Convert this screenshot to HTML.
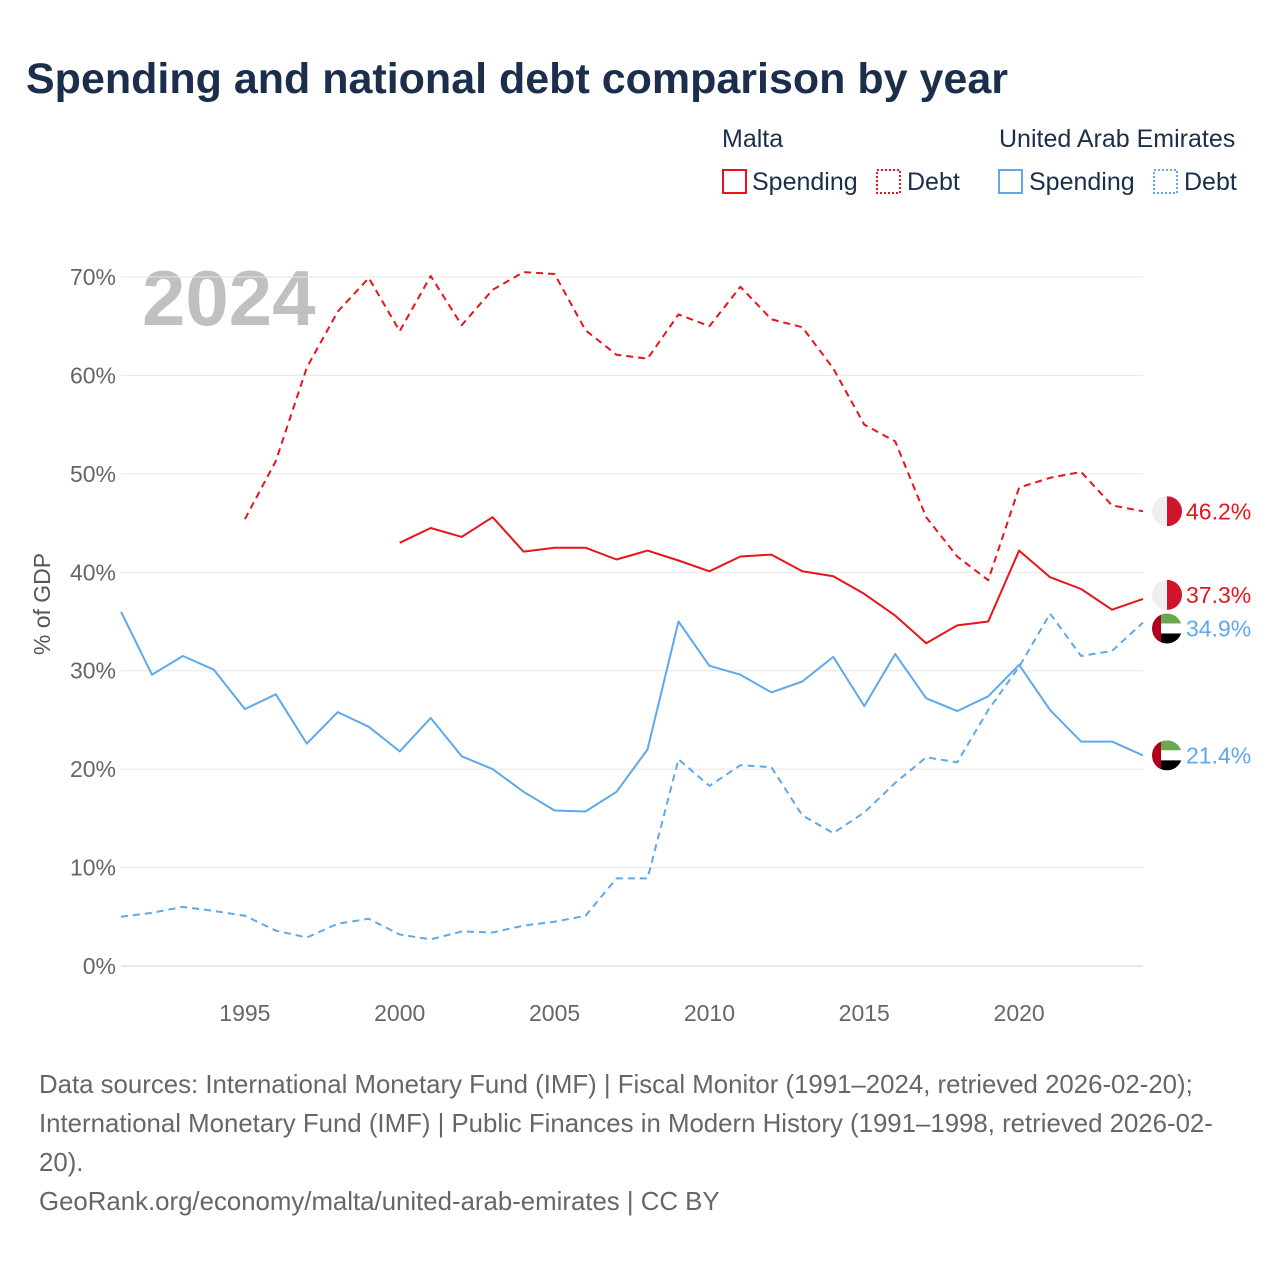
<!DOCTYPE html>
<html><head><meta charset="utf-8">
<style>
body{margin:0;background:#fff;font-family:"Liberation Sans",sans-serif;}
#wrap{position:relative;width:1280px;height:1280px;overflow:hidden;}
</style></head>
<body>
<div id="wrap">
<svg id="chart" width="1280" height="1280" font-family="Liberation Sans, sans-serif">
<text x="26" y="93" font-size="43" font-weight="bold" fill="#1b2e4b">Spending and national debt comparison by year</text>
<g font-size="25" fill="#1b2e4b">
<text x="722" y="147">Malta</text>
<text x="999" y="147">United Arab Emirates</text>
<g><rect x="723" y="170" width="23" height="23" fill="none" stroke="#e8141b" stroke-width="2"/><text x="752" y="190">Spending</text></g>
<g><rect x="877" y="170" width="23" height="23" fill="none" stroke="#e8141b" stroke-width="2" stroke-dasharray="2,2"/><text x="907" y="190">Debt</text></g>
<g><rect x="999" y="170" width="23" height="23" fill="none" stroke="#5ea8ec" stroke-width="2"/><text x="1029" y="190">Spending</text></g>
<g><rect x="1154" y="170" width="23" height="23" fill="none" stroke="#5ea8ec" stroke-width="2" stroke-dasharray="2,2"/><text x="1184" y="190">Debt</text></g>
</g>
<text x="142" y="325" font-size="78" font-weight="bold" fill="#c0c0c0">2024</text>
<text transform="translate(50,604) rotate(-90)" text-anchor="middle" font-size="23" fill="#555">% of GDP</text>
<g id="grid"></g><g id="xt"></g><g id="lines"></g><g id="ends"></g>
<g font-size="25.8" fill="#666">
<text x="39" y="1093">Data sources: International Monetary Fund (IMF) | Fiscal Monitor (1991–2024, retrieved 2026-02-20);</text>
<text x="39" y="1132">International Monetary Fund (IMF) | Public Finances in Modern History (1991–1998, retrieved 2026-02-</text>
<text x="39" y="1171">20).</text>
<text x="39" y="1210">GeoRank.org/economy/malta/united-arab-emirates | CC BY</text>
</g>
</svg>
</div>
<script>
const years=[];for(let y=1991;y<=2024;y++)years.push(y);
const uaeSpending=[36.0,29.6,31.5,30.1,26.1,27.6,22.6,25.8,24.3,21.8,25.2,21.3,20.0,17.7,15.8,15.7,17.7,22.0,35.0,30.5,29.6,27.8,28.9,31.4,26.4,31.7,27.2,25.9,27.4,30.6,26.0,22.8,22.8,21.4];
const uaeDebt=[5.0,5.4,6.0,5.6,5.1,3.6,2.9,4.3,4.8,3.2,2.7,3.5,3.4,4.1,4.5,5.1,8.9,8.9,21.0,18.3,20.4,20.2,15.3,13.5,15.6,18.6,21.2,20.7,26.0,30.4,35.8,31.5,32.0,34.9];
const maltaSpending=[null,null,null,null,null,null,null,null,null,43.0,44.5,43.6,45.6,42.1,42.5,42.5,41.3,42.2,41.2,40.1,41.6,41.8,40.1,39.6,37.8,35.6,32.8,34.6,35.0,42.2,39.5,38.3,36.2,37.3];
const maltaDebt=[null,null,null,null,45.4,51.3,60.8,66.5,69.9,64.5,70.1,65.1,68.7,70.5,70.3,64.6,62.1,61.7,66.2,65.0,69.0,65.7,64.9,60.7,55.0,53.3,45.6,41.6,39.2,48.6,49.6,50.2,46.8,46.2];
const yTicks=[0,10,20,30,40,50,60,70];
const xTicks=[1995,2000,2005,2010,2015,2020];
const NS="http://www.w3.org/2000/svg";
const X=y=>121+(y-1991)*(1143-121)/33;
const Y=v=>966-v*(966-277)/70;
function mk(t,a,p){const e=document.createElementNS(NS,t);for(const k in a)e.setAttribute(k,a[k]);p.appendChild(e);return e;}
const grid=document.getElementById('grid');
yTicks.forEach(v=>{
 const l=mk('line',{x1:121,x2:1143,y1:Y(v),y2:Y(v),stroke:v===0?'#ccc':'#e6e6e6','stroke-width':1},grid);
 
 
 const t=mk('text',{x:116,y:Y(v)+8,'text-anchor':'end','font-size':23,fill:'#666'},grid);t.textContent=v+'%';
 
 
});
const xt=document.getElementById('xt');
xTicks.forEach(y=>{
 const t=mk('text',{x:X(y),y:1021,'text-anchor':'middle','font-size':23,fill:'#666'},xt);t.textContent=y;
 
 
});
const lines=document.getElementById('lines');
function draw(vals,color,dash,name){
 let d='';let pen=false;
 vals.forEach((v,i)=>{if(v==null){pen=false;return;}d+=(pen?'L':'M')+X(years[i]).toFixed(1)+','+Y(v).toFixed(1);pen=true;});
 const p=mk('path',{d:d,fill:'none',stroke:color,'stroke-width':2,'stroke-dasharray':dash?'7,5':'none','stroke-linejoin':'round'},lines);
 
 
}
draw(uaeDebt,'#5ea8ec',true,'line-uae-debt');
draw(uaeSpending,'#5ea8ec',false,'line-uae-spending');
draw(maltaDebt,'#e8141b',true,'line-malta-debt');
draw(maltaSpending,'#e8141b',false,'line-malta-spending');
const ends=document.getElementById('ends');
function flag(cy,kind,val,color,name){
 const cx=1167;const g=mk('g',{},ends);
 
 
 const id='c'+Math.round(cy);
 const cp=mk('clipPath',{id:id},g);mk('circle',{cx:cx,cy:cy,r:15},cp);
 const f=mk('g',{'clip-path':'url(#'+id+')'},g);
 if(kind==='mt'){mk('rect',{x:cx-15,y:cy-15,width:15,height:30,fill:'#eee'},f);mk('rect',{x:cx,y:cy-15,width:15,height:30,fill:'#cf142b'},f);}
 else{mk('rect',{x:cx-15,y:cy-15,width:30,height:10,fill:'#6aa84f'},f);mk('rect',{x:cx-15,y:cy-5,width:30,height:10,fill:'#fff'},f);mk('rect',{x:cx-15,y:cy+5,width:30,height:10,fill:'#000'},f);mk('rect',{x:cx-15,y:cy-15,width:9,height:30,fill:'#b0001e'},f);}
 const t=mk('text',{x:1186,y:cy+8,'font-size':23,fill:color},g);t.textContent=val.toFixed(1)+'%';
}
const n=years.length-1;
flag(Y(maltaDebt[n]),'mt',maltaDebt[n],'#e8141b','end-label-malta-debt');
flag(Y(maltaSpending[n])-4,'mt',maltaSpending[n],'#e8141b','end-label-malta-spending');
flag(Y(uaeDebt[n])+6,'ae',uaeDebt[n],'#5ea8ec','end-label-uae-debt');
flag(Y(uaeSpending[n]),'ae',uaeSpending[n],'#5ea8ec','end-label-uae-spending');
</script>
</body></html>
